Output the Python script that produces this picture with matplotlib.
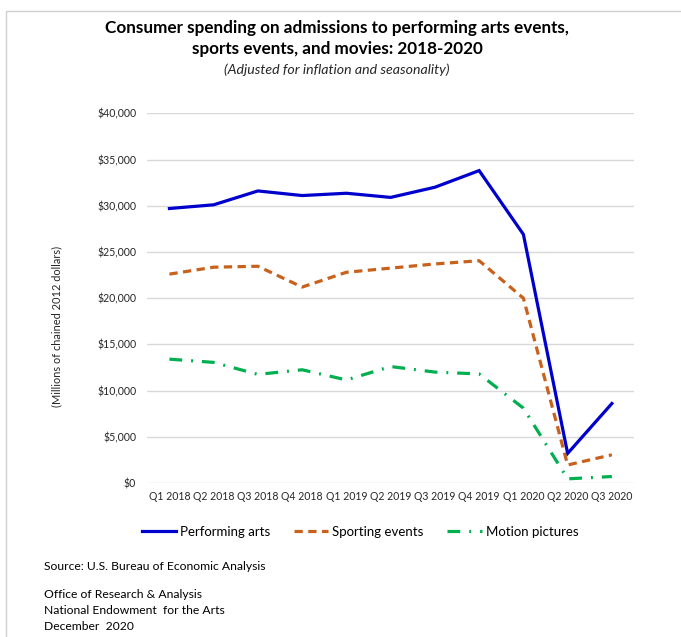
import matplotlib
matplotlib.use("Agg")
import matplotlib.pyplot as plt
from matplotlib.ticker import FuncFormatter, MultipleLocator
from matplotlib.patches import Rectangle

# Quarterly consumer spending, millions of chained 2012 dollars
quarters = ["Q1 2018", "Q2 2018", "Q3 2018", "Q4 2018",
            "Q1 2019", "Q2 2019", "Q3 2019", "Q4 2019",
            "Q1 2020", "Q2 2020", "Q3 2020"]
performing_arts = [29700, 30100, 31600, 31100, 31350, 30900, 32000, 33800, 26900, 3200, 8600]
sporting_events = [22600, 23350, 23450, 21200, 22800, 23250, 23700, 24050, 20000, 1950, 3050]
motion_pictures = [13400, 13050, 11750, 12250, 11150, 12600, 12000, 11800, 8100, 450, 700]

W, H = 681, 637
plt.rcParams["font.family"] = ["Lato", "DejaVu Sans"]

fig = plt.figure(figsize=(W / 100, H / 100), dpi=100)
fig.patch.set_facecolor("white")

# thin frame on the top and left edges
fig.patches.append(Rectangle((6 / W, -0.1), 1.2, 1 - 11 / H + 0.1,
                             transform=fig.transFigure, fill=False,
                             edgecolor="#D0D0D0", linewidth=1.0))

ax = fig.add_axes([147.3 / W, 1 - 483 / H, (634 - 147.3) / W, (483 - 113.3) / H])
x = list(range(len(quarters)))

ax.plot(x, performing_arts, color="#0000CD", linewidth=2.3,
        solid_joinstyle="miter", label="Performing arts")
ax.plot(x, sporting_events, color="#C8611C", linewidth=2.3,
        linestyle=(0, (2.6, 1.7)), label="Sporting events")
ax.plot(x, motion_pictures, color="#00B050", linewidth=2.3,
        linestyle=(0, (4.0, 2.8, 0.6, 2.8)), label="Motion pictures")

ax.set_xlim(-0.5, len(quarters) - 0.5)
ax.set_ylim(0, 40000)
ax.yaxis.set_major_locator(MultipleLocator(5000))
ax.yaxis.set_major_formatter(FuncFormatter(lambda v, p: f"${v:,.0f}"))
ax.set_xticks(x)
ax.set_xticklabels(quarters)
ax.grid(axis="y", color="#D9D9D9", linewidth=1.0)
ax.set_axisbelow(True)
for s in ax.spines.values():
    s.set_visible(False)
ax.tick_params(axis="both", length=0, labelsize=7.6, colors="#262626")
ax.tick_params(axis="y", pad=8)
ax.tick_params(axis="x", pad=6)

ax.set_ylabel("(Millions of chained 2012 dollars)", fontsize=7.9, color="#262626")
ax.yaxis.set_label_coords(-(147.3 - 62) / (634 - 147.3), (483 - 326) / (483 - 113.3))

fig.text(337 / W, 1 - 28 / H, "Consumer spending on admissions to performing arts events,",
         ha="center", va="center", fontsize=12.3, fontweight="bold", color="black")
fig.text(337 / W, 1 - 49 / H, "sports events, and movies: 2018-2020",
         ha="center", va="center", fontsize=12.3, fontweight="bold", color="black")
fig.text(337 / W, 1 - 70 / H, "(Adjusted for inflation and seasonality)",
         ha="center", va="center", fontsize=10.2, style="italic", color="#262626")

fig.legend(loc="center", bbox_to_anchor=(360 / W, 1 - 532 / H), ncol=3,
           frameon=False, fontsize=9.5, handlelength=2.6, handletextpad=0.3,
           columnspacing=1.8)

foot = dict(ha="left", va="center", fontsize=8.7, color="black")
fig.text(44 / W, 1 - 566 / H, "Source: U.S. Bureau of Economic Analysis", **foot)
fig.text(44 / W, 1 - 595 / H, "Office of Research & Analysis", **foot)
fig.text(44 / W, 1 - 611 / H, "National Endowment  for the Arts", **foot)
fig.text(44 / W, 1 - 627 / H, "December  2020", **foot)

fig.savefig("out.png", dpi=100)
